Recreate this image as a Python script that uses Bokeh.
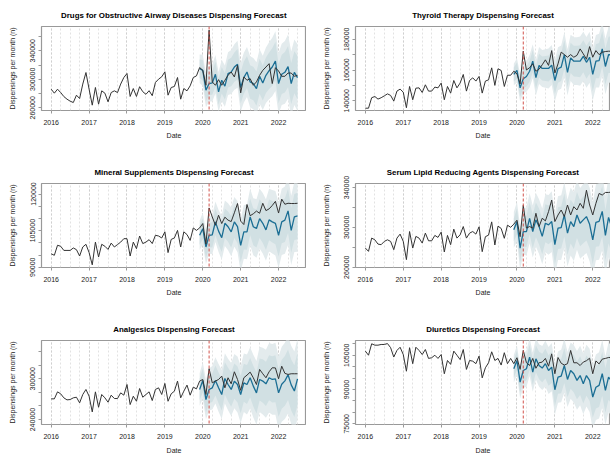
import numpy as np
import pandas as pd
from bokeh.plotting import figure
from bokeh.layouts import column, row
from bokeh.models import Range1d, FixedTicker, Span, Title
from bokeh.embed import file_html
from bokeh.resources import INLINE

# ---------------- data ----------------
obs_dates = pd.date_range("2016-01-01", "2022-07-01", freq="MS")
fc_dates = pd.date_range("2019-12-01", "2022-07-01", freq="MS")
intervention_date = pd.Timestamp("2020-03-01")
year_ticks = [2016, 2017, 2018, 2019, 2020, 2021, 2022]

titles = [
    "Drugs for Obstructive Airway Diseases Dispensing Forecast",
    "Thyroid Therapy Dispensing Forecast",
    "Mineral Supplements Dispensing Forecast",
    "Serum Lipid Reducing Agents Dispensing Forecast",
    "Analgesics Dispensing Forecast",
    "Diuretics Dispensing Forecast",
]

# observed monthly dispensings, Jan 2016 - Jul 2022
airway_obs = [
    286100, 280500, 286100, 281400, 275800, 272100, 269300, 267400, 277700, 273000, 293300, 309500,
    286100, 263700, 288500, 265100, 283800, 280500, 268400, 281400, 283800, 281400, 293300, 302500,
    308100, 275900, 287000, 275900, 289600, 282600, 278900, 284000, 277000, 295500, 300200, 303500,
    310500, 277700, 288500, 289900, 302500, 272100, 287000, 283800, 290800, 302500, 304800, 316500,
    312600, 291600, 369000, 296300, 291600, 299500, 291600, 298600, 305600, 310200, 303300, 319500,
    280900, 303300, 298600, 300900, 291600, 296300, 305600, 312600, 317200, 321900, 294000, 316300,
    311600, 304200, 304200, 308800, 308800, 304200, 305600]
thyroid_obs = [
    135200, 135200, 142000, 142800, 141100, 142000, 143200, 144500, 143500, 139800, 146300, 147600,
    145600, 135500, 149300, 140700, 148200, 148400, 145400, 150400, 146300, 146300, 148900, 148400,
    151500, 140700, 149300, 145000, 153200, 148400, 151500, 157100, 146300, 153200, 154900, 152800,
    155800, 145000, 152800, 153600, 161400, 150000, 160800, 159700, 149300, 156600, 156600, 159200,
    157500, 151000, 172200, 160000, 161500, 164000, 159200, 160500, 163400, 166600, 163000, 172600,
    158000, 164000, 171600, 170000, 168300, 170000, 168300, 169500, 173700, 170500, 167000, 175200,
    168300, 172600, 170000, 171500, 172000, 172200, 172200]
mineral_obs = [
    95500, 94900, 99000, 98600, 96900, 96900, 96900, 97900, 97200, 94600, 98300, 99400,
    96000, 91000, 100300, 94200, 99400, 98600, 97300, 99900, 98300, 99300, 100300, 101700,
    101700, 94600, 100300, 97600, 102800, 99700, 100300, 101300, 99700, 103100, 102800, 102000,
    104500, 96000, 101400, 102000, 105100, 98300, 104500, 103400, 101000, 106100, 105100, 106100,
    107900, 99500, 114300, 110600, 107200, 111300, 107900, 110500, 109300, 108700, 112300, 116100,
    108900, 107500, 115700, 111100, 111900, 113000, 112100, 116200, 113200, 113900, 115300, 117000,
    112200, 117900, 115800, 116200, 116100, 116100, 116200]
lipid_obs = [
    279200, 275900, 289200, 287500, 283200, 282600, 285900, 287500, 285900, 277600, 289200, 293200,
    285900, 267600, 295800, 279200, 290900, 289200, 284200, 294200, 286500, 286500, 291900, 289900,
    295200, 275300, 291900, 282600, 298200, 289200, 292500, 300800, 289200, 294200, 295800, 293200,
    300500, 275600, 290600, 292200, 305500, 282300, 301200, 298900, 289000, 302200, 300000, 303200,
    307200, 290600, 322100, 299200, 300800, 299200, 314100, 300800, 309100, 306500, 315800, 327400,
    305800, 312400, 317400, 310800, 322400, 312400, 320700, 317400, 324100, 319100, 337300, 322400,
    312400, 324100, 334000, 332400, 335000, 335000, 335500]
analgesic_obs = [
    270500, 270500, 280800, 277900, 272000, 269000, 269500, 272000, 272900, 264600, 276900, 284300,
    274400, 251300, 280800, 258200, 276900, 272000, 265600, 275900, 271000, 271000, 279300, 275900,
    291600, 262100, 274400, 267000, 285700, 272900, 276900, 280800, 268000, 284300, 286700, 276900,
    293100, 267000, 277900, 281800, 296600, 272000, 281800, 290700, 275900, 287700, 285200, 296600,
    299000, 276900, 314800, 294100, 296600, 299000, 303900, 286700, 301500, 292600, 310300, 299000,
    283000, 301500, 305400, 309800, 301500, 291600, 313800, 307400, 301500, 310300, 316200, 316000,
    300000, 318500, 308000, 306400, 307400, 307400, 307400]
diuretic_obs = [
    106800, 105000, 110000, 109400, 109400, 109700, 109700, 110100, 108300, 104200, 107100, 108500,
    105300, 98000, 108300, 101300, 108500, 107100, 105300, 107500, 103600, 103900, 105000, 103600,
    105300, 96900, 102700, 101000, 106800, 105000, 103100, 107500, 98800, 102700, 102400, 101300,
    104600, 95100, 99500, 101700, 106500, 102700, 103600, 100700, 106100, 101300, 103600, 101300,
    103900, 98800, 107100, 101700, 100500, 103600, 99300, 101700, 102000, 103600, 100200, 105600,
    96900, 104000, 101500, 100700, 101300, 107100, 101700, 101700, 100500, 102000, 102600, 103700,
    96900, 102500, 101200, 103300, 103600, 104000, 104000]

# forecast means, Dec 2019 - Jul 2022
airway_fc = [314900, 312600, 284700, 294000, 294900, 307000, 282300, 298600, 290300, 308000, 310200, 317200, 321000,
             288400, 302300, 310200, 296300, 294000, 287000, 304200, 294900, 305600, 312000, 317200, 325600,
             294000, 307000, 309800, 317700, 294000, 309800, 302300]
thyroid_fc = [157100, 159700, 148400, 154300, 155800, 159200, 165700, 155000, 162900, 161000, 161000, 161000, 163200,
              153200, 160800, 161900, 170000, 158500, 167900, 165700, 165700, 165700, 168900, 165000, 168300,
              157200, 165700, 166100, 173700, 162300, 169900, 169900]
mineral_fc = [103100, 105800, 98300, 103100, 103300, 108600, 104800, 102100, 108000, 106600, 104500, 108600, 106600,
              99000, 104500, 104500, 110600, 106600, 105900, 109900, 108000, 105300, 109400, 108600, 108000,
              103100, 108600, 109300, 113100, 105100, 110600, 111000]
lipid_fc = [297500, 305800, 279200, 295800, 295800, 309100, 295800, 307500, 300800, 290900, 304100, 302500, 305800,
            282600, 299200, 299800, 312400, 294200, 305800, 300800, 312400, 304100, 307500, 310800, 303000,
            287500, 305000, 306000, 316000, 292000, 310000, 300000]
analgesic_fc = [284300, 297500, 269500, 284300, 286700, 297500, 286700, 276900, 300500, 291600, 284300, 296600, 291600,
                276900, 294100, 291600, 301500, 289200, 279300, 299000, 296600, 292600, 301500, 299000, 300000,
                279300, 292000, 297000, 306000, 291000, 282000, 300000]
diuretic_fc = [99100, 102700, 93200, 98300, 99100, 104200, 97600, 103400, 100500, 99400, 101300, 98300, 99800,
               89900, 95400, 95900, 100500, 94400, 98300, 96900, 94000, 96100, 92500, 96100, 94000,
               86700, 91000, 91800, 96900, 89600, 95400, 93700]

# half widths of the 80% and 95% prediction intervals
airway_hw80 = [13000, 14500, 15500, 16000, 16500, 17500, 18000, 18500, 18500, 19500, 20000, 20500, 21500, 22000, 22500, 22500,
               23500, 23500, 24000, 24500, 24500, 25000, 25500, 26500, 27000, 27500, 27500, 28500, 29000, 29000, 29500, 30500]
airway_hw95 = [20000, 22000, 24000, 25000, 26000, 27000, 28000, 29000, 29000, 30000, 31000, 32000, 33000, 34000, 35000, 35000,
               36000, 36000, 37000, 38000, 38000, 39000, 40000, 41000, 42000, 43000, 43000, 44000, 45000, 45000, 46000, 47000]
thyroid_hw80 = [4500, 5200, 5800, 6200, 6500, 6800, 7100, 7400, 7700, 7800, 8100, 8400, 8500, 8800, 9100, 9100,
                9400, 9700, 9800, 10000, 10100, 10400, 10400, 10700, 10700, 11000, 11100, 11400, 11400, 11700, 11700, 12000]
thyroid_hw95 = [7000, 8000, 9000, 9500, 10000, 10500, 11000, 11500, 12000, 12000, 12500, 13000, 13000, 13500, 14000, 14000,
                14500, 15000, 15000, 15500, 15500, 16000, 16000, 16500, 16500, 17000, 17000, 17500, 17500, 18000, 18000, 18500]
mineral_hw80 = [3900, 4200, 4600, 4900, 5200, 5400, 5600, 5900, 6000, 6200, 6500, 6600, 6800, 7000, 7200, 7300,
                7500, 7600, 7800, 7900, 8100, 8200, 8300, 8500, 8600, 8700, 8800, 9000, 9100, 9200, 9400, 9500]
mineral_hw95 = [6000, 6500, 7000, 7500, 8000, 8300, 8600, 9000, 9300, 9600, 10000, 10200, 10500, 10800, 11000, 11200,
                11500, 11700, 12000, 12200, 12400, 12600, 12800, 13000, 13200, 13400, 13600, 13800, 14000, 14200, 14400, 14600]
lipid_hw80 = [11500, 13000, 14000, 15000, 15500, 16000, 17000, 17500, 18000, 18000, 19000, 19500, 20000, 20000, 21000, 21000,
              21500, 22000, 22000, 22500, 23000, 23000, 23500, 24000, 24000, 24500, 24500, 25000, 25500, 25500, 26000, 26500]
lipid_hw95 = [18000, 20000, 22000, 23000, 24000, 25000, 26000, 27000, 27500, 28000, 29000, 30000, 30500, 31000, 32000, 32500,
              33000, 33500, 34000, 34500, 35000, 35500, 36000, 36500, 37000, 37500, 38000, 38500, 39000, 39500, 40000, 40500]
analgesic_hw80 = [15500, 17500, 19000, 20000, 21000, 22000, 22500, 23500, 24000, 24500, 25500, 26000, 26500, 27500, 28000, 28500,
                  29000, 30000, 30500, 31000, 32000, 32500, 33000, 34000, 34500, 35000, 36000, 36500, 37000, 37500, 38000, 38500]
analgesic_hw95 = [24000, 27000, 29000, 31000, 32000, 34000, 35000, 36000, 37000, 38000, 39000, 40000, 41000, 42000, 43000, 44000,
                  45000, 46000, 47000, 48000, 49000, 50000, 51000, 52000, 53000, 54000, 55000, 56000, 57000, 57500, 58000, 59000]
diuretic_hw80 = [3900, 4200, 4600, 4900, 5200, 5400, 5600, 5900, 6000, 6200, 6500, 6700, 6900, 7100, 7300, 7500,
                 7700, 7800, 8000, 8200, 8300, 8500, 8600, 8800, 9000, 9100, 9300, 9400, 9600, 9800, 9900, 10100]
diuretic_hw95 = [6000, 6500, 7000, 7500, 8000, 8300, 8600, 9000, 9300, 9600, 10000, 10300, 10600, 10900, 11200, 11500,
                 11800, 12000, 12300, 12600, 12800, 13000, 13300, 13500, 13800, 14000, 14300, 14500, 14800, 15000, 15200, 15500]

# y axis limits, tick marks and the tick labels that are printed
airway_y = (256200, 374100); airway_ticks = [260000, 280000, 300000, 320000, 340000, 360000]; airway_lab = [260000, 300000, 340000]
thyroid_y = (133700, 188250); thyroid_ticks = [140000, 150000, 160000, 170000, 180000]; thyroid_lab = [140000, 160000, 180000]
mineral_y = (89900, 124300); mineral_ticks = [90000, 95000, 100000, 105000, 110000, 115000, 120000]; mineral_lab = [90000, 105000, 120000]
lipid_y = (259700, 344000); lipid_ticks = [260000, 280000, 300000, 320000, 340000]; lipid_lab = [260000, 300000, 340000]
analgesic_y = (232800, 356300); analgesic_ticks = [240000, 260000, 280000, 300000, 320000, 340000]; analgesic_lab = [240000, 300000]
diuretic_y = (74700, 111440); diuretic_ticks = [75000, 80000, 85000, 90000, 95000, 100000, 105000, 110000]; diuretic_lab = [75000, 90000, 105000]

# ---------------- drawing ----------------
FONT = "Liberation Sans"
DARK = "#222222"


def frac_year(d):
    return d.year + (d.month - 1) / 12.0


x_obs = np.array([frac_year(d) for d in obs_dates])
x_fc = np.array([frac_year(d) for d in fc_dates])
x_int = frac_year(intervention_date)
quarters = [y + q / 4 for y in range(2016, 2023) for q in range(4)]


def panel(title, obs, fc, hw80, hw95, ylim, yticks, ylab, right, last_row):
    h = 145 if last_row else 157
    if right:
        xr = Range1d(2015.74, 2022.468)
        w, bl, shift = 304, 49, 5.5
    else:
        xr = Range1d(2015.744, 2022.737)
        w, bl, shift = 306, 41, 0
    p = figure(width=w, height=h, x_range=xr, y_range=Range1d(*ylim),
               output_backend="svg", toolbar_location=None,
               min_border_left=bl, min_border_right=0, min_border_top=26,
               min_border_bottom=35 if last_row else 47)
    p.outline_line_color = "#999999"
    p.outline_line_width = 1.2
    p.background_fill_color = "white"
    p.border_fill_color = "white"

    fc = np.array(fc, dtype=float)
    hw80 = np.array(hw80, dtype=float)
    hw95 = np.array(hw95, dtype=float)
    p.varea(x=x_fc, y1=fc - hw95, y2=fc + hw95, fill_color="#e3ebed")
    p.varea(x=x_fc, y1=fc - hw80, y2=fc + hw80, fill_color="#d1e0e3")

    p.line(x_fc, fc, line_color="#1b6e94", line_width=1.3)
    p.line(x_obs, obs, line_color="#333333", line_width=1.0)

    p.add_layout(Span(location=x_int, dimension="height", line_color="#d2524c",
                      line_dash="3 2", line_width=1.0))

    # axes
    p.xaxis.ticker = FixedTicker(ticks=year_ticks, minor_ticks=quarters)
    p.xgrid.grid_line_color = "#cfcfcf"
    p.xgrid.grid_line_dash = "2 2"
    p.xgrid.minor_grid_line_color = "#e2e2e2"
    p.xgrid.minor_grid_line_dash = "2 2"
    p.ygrid.grid_line_color = None
    p.yaxis.ticker = FixedTicker(ticks=yticks)
    p.yaxis.major_label_overrides = {t: (str(t) if t in ylab else "") for t in yticks}
    p.xaxis.major_label_overrides = {t: str(t) for t in year_ticks}
    for ax in (p.xaxis[0], p.yaxis[0]):
        ax.axis_line_color = None
        ax.major_tick_line_color = "#999999"
        ax.major_tick_out = 3
        ax.major_tick_in = 0
        ax.minor_tick_line_color = None
        ax.major_label_text_font = FONT
        ax.major_label_text_font_size = "7px"
        ax.major_label_text_color = DARK
    p.xaxis.major_label_standoff = 5
    p.yaxis.major_label_standoff = 3
    p.yaxis.major_label_orientation = "vertical"

    p.yaxis.axis_label = "Dispensings per month (n)"
    p.yaxis.axis_label_text_font = FONT
    p.yaxis.axis_label_text_font_size = "7px"
    p.yaxis.axis_label_text_font_style = "normal"
    p.yaxis.axis_label_text_color = DARK
    p.yaxis.axis_label_standoff = 12

    # the built-in title is left empty; a thin invisible spacer sits next to
    # the frame and the real title goes above it
    p.title.text = ""
    p.title.standoff = 0
    p.title.text_font_size = "1px"
    p.add_layout(Title(text=" ", text_font_size="1px", text_alpha=0.0, standoff=3), "above")
    p.add_layout(Title(text=title, align="center", vertical_align="bottom", offset=shift,
                       standoff=13, text_font=FONT, text_font_size="7.9px",
                       text_font_style="bold", text_color="#000000"), "above")

    if last_row:
        date_title = Title(text="Date", align="center", offset=shift, standoff=7,
                           vertical_align="bottom")
    else:
        date_title = Title(text="Date", align="center", offset=shift, standoff=8,
                           vertical_align="top")
    date_title.text_font = FONT
    date_title.text_font_size = "7px"
    date_title.text_font_style = "normal"
    date_title.text_color = DARK
    p.add_layout(date_title, "below")
    return p


p1 = panel(titles[0], airway_obs, airway_fc, airway_hw80, airway_hw95, airway_y, airway_ticks, airway_lab, False, False)
p2 = panel(titles[1], thyroid_obs, thyroid_fc, thyroid_hw80, thyroid_hw95, thyroid_y, thyroid_ticks, thyroid_lab, True, False)
p3 = panel(titles[2], mineral_obs, mineral_fc, mineral_hw80, mineral_hw95, mineral_y, mineral_ticks, mineral_lab, False, False)
p4 = panel(titles[3], lipid_obs, lipid_fc, lipid_hw80, lipid_hw95, lipid_y, lipid_ticks, lipid_lab, True, False)
p5 = panel(titles[4], analgesic_obs, analgesic_fc, analgesic_hw80, analgesic_hw95, analgesic_y, analgesic_ticks, analgesic_lab, False, True)
p6 = panel(titles[5], diuretic_obs, diuretic_fc, diuretic_hw80, diuretic_hw95, diuretic_y, diuretic_ticks, diuretic_lab, True, True)

layout = column(row(p1, p2), row(p3, p4), row(p5, p6))
open("out.html", "w").write(file_html(layout, INLINE))
